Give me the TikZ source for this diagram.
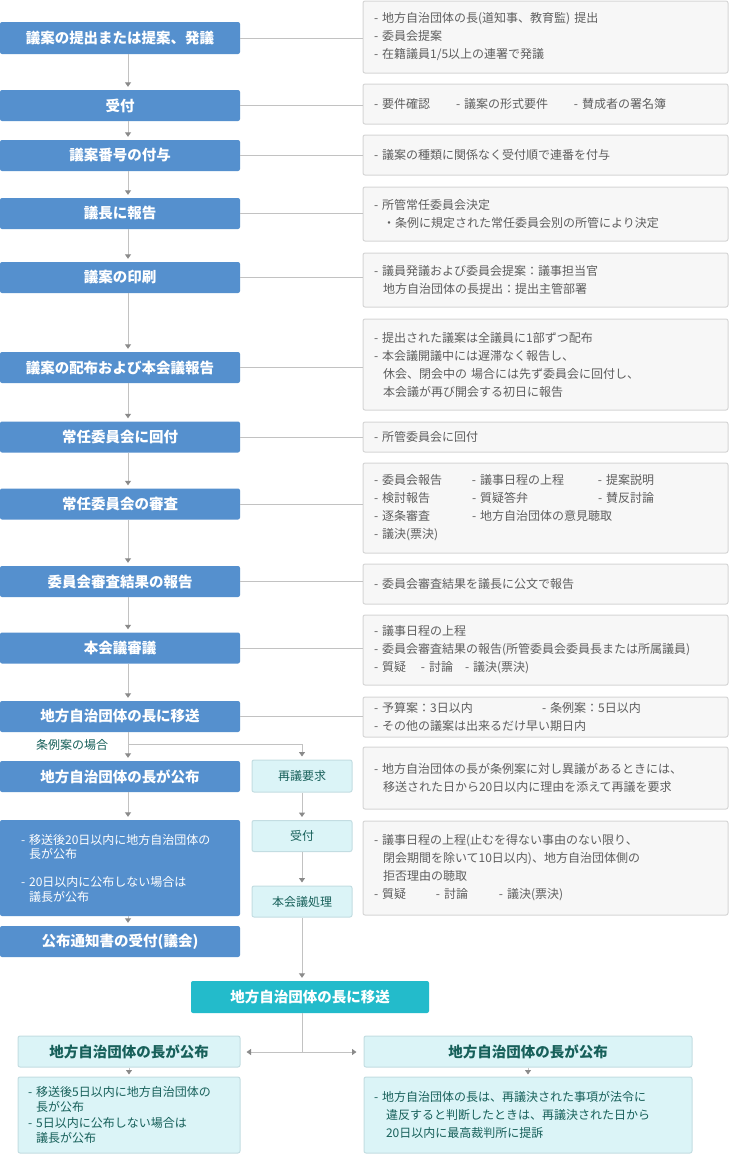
\documentclass[tikz,border=0pt]{standalone}
\usepackage{fontspec}
\setmainfont{Noto Sans CJK JP}
\usetikzlibrary{arrows.meta}
\definecolor{mblue}{HTML}{5590CE}
\definecolor{mteal}{HTML}{23BBCB}
\definecolor{lcyan}{HTML}{DBF4F7}
\definecolor{lcyanborder}{HTML}{C3DDE2}
\definecolor{dteal}{HTML}{17605A}
\definecolor{infofill}{HTML}{F7F7F7}
\definecolor{infoborder}{HTML}{D6D6D6}
\definecolor{infotext}{HTML}{5E5E5E}
\definecolor{connc}{HTML}{C2C2C2}
\definecolor{arrowgray}{HTML}{8A8A8A}
\tikzset{
  bluebox/.style={fill=mblue, rounded corners=2pt, text=white,
    font=\bfseries\fontsize{14.5}{17}\selectfont,
    minimum width=240pt, minimum height=31pt, inner sep=0pt},
  bluelist/.style={fill=mblue, rounded corners=2pt, text=white,
    font=\fontsize{12}{14.5}\selectfont, align=left,
    text width=198pt, inner xsep=21pt, inner ysep=0pt},
  infobox/.style={draw=infoborder, fill=infofill, rounded corners=2pt,
    line width=1pt, text=infotext, font=\fontsize{12}{18}\selectfont,
    text width=343pt, inner xsep=11pt, inner ysep=0pt, align=left},
  smallbox/.style={draw=lcyanborder, fill=lcyan, rounded corners=2pt,
    line width=1pt, text=dteal, font=\fontsize{12}{14}\selectfont,
    minimum width=100pt, minimum height=31pt, inner sep=0pt},
  tealbox/.style={fill=mteal, rounded corners=2pt, text=white,
    font=\bfseries\fontsize{14.5}{17}\selectfont,
    minimum width=238pt, minimum height=32pt, inner sep=0pt},
  cyantitle/.style={draw=lcyanborder, fill=lcyan, rounded corners=2pt,
    line width=1pt, text=dteal, font=\bfseries\fontsize{14.5}{17}\selectfont,
    minimum height=31pt, inner sep=0pt},
  cyanlist/.style={draw=lcyanborder, fill=lcyan, rounded corners=2pt,
    line width=1pt, text=dteal, align=left, inner xsep=10pt, inner ysep=0pt},
  conn/.style={draw=connc, line width=1pt},
  arr/.style={-{Triangle[width=6pt,length=4.5pt,color=arrowgray]}, shorten >=3pt},
}
\begin{document}
\begin{tikzpicture}[x=1pt,y=-1pt]
\useasboundingbox[fill=white] (0,0) rectangle (729,1154);

% main blue boxes
\node[bluebox, minimum height=32pt] (b1) at (120,38) {議案の提出または提案、発議};
\node[bluebox] (b2) at (120,105.5) {受付};
\node[bluebox] (b3) at (120,155.5) {議案番号の付与};
\node[bluebox] (b4) at (120,213.5) {議長に報告};
\node[bluebox] (b5) at (120,277.5) {議案の印刷};
\node[bluebox] (b6) at (120,367.5) {議案の配布および本会議報告};
\node[bluebox] (b7) at (120,437) {常任委員会に回付};
\node[bluebox] (b8) at (120,504) {常任委員会の審査};
\node[bluebox] (b9) at (120,581.5) {委員会審査結果の報告};
\node[bluebox] (b10) at (120,648) {本会議審議};
\node[bluebox] (b11) at (120,716.5) {地方自治団体の長に移送};
\node[bluebox] (b12) at (120,776.5) {地方自治団体の長が公布};
\node[bluelist, minimum height=96pt] (b13) at (120,868) {- 移送後20日以内に地方自治団体の\\\hspace*{8pt}長が公布\\[13.5pt]- 20日以内に公布しない場合は\\\hspace*{8pt}議長が公布};
\node[bluebox] (b14) at (120,941.5) {公布通知書の受付(議会)};

% info boxes
\node[infobox, minimum height=72pt] (i1) at (545.5,37) {- 地方自治団体の長(道知事、教育監) 提出\\- 委員会提案\\- 在籍議員1/5以上の連署で発議};
\node[infobox, minimum height=40pt] (i2) at (545.5,104) {\makebox[82pt][l]{- 要件確認}\makebox[118pt][l]{- 議案の形式要件}- 賛成者の署名簿};
\node[infobox, minimum height=40pt] (i3) at (545.5,155) {- 議案の種類に関係なく受付順で連番を付与};
\node[infobox, minimum height=54pt] (i4) at (545.5,214) {- 所管常任委員会決定\\\hspace*{9pt}・条例に規定された常任委員会別の所管により決定};
\node[infobox, minimum height=54pt] (i5) at (545.5,280) {- 議員発議および委員会提案：議事担当官\\\hspace*{9pt}地方自治団体の長提出：提出主管部署};
\node[infobox, minimum height=91pt] (i6) at (545.5,364.5) {- 提出された議案は全議員に1部ずつ配布\\- 本会議開議中には遅滞なく報告し、\\\hspace*{9pt}休会、閉会中の 場合には先ず委員会に回付し、\\\hspace*{9pt}本会議が再び開会する初日に報告};
\node[infobox, minimum height=30pt] (i7) at (545.5,437) {- 所管委員会に回付};
\node[infobox, minimum height=90pt] (i8) at (545.5,508) {\makebox[98pt][l]{- 委員会報告}\makebox[126pt][l]{- 議事日程の上程}- 提案説明\\\makebox[98pt][l]{- 検討報告}\makebox[126pt][l]{- 質疑答弁}- 賛反討論\\\makebox[98pt][l]{- 逐条審査}- 地方自治団体の意見聴取\\- 議決(票決)};
\node[infobox, minimum height=40pt] (i9) at (545.5,584) {- 委員会審査結果を議長に公文で報告};
\node[infobox, minimum height=70pt] (i10) at (545.5,650) {- 議事日程の上程\\- 委員会審査結果の報告(所管委員会委員長または所属議員)\\\makebox[47pt][l]{- 質疑}\makebox[44pt][l]{- 討論}- 議決(票決)};
\node[infobox, minimum height=40pt] (i11) at (545.5,717) {\makebox[168pt][l]{- 予算案：3日以内}- 条例案：5日以内\\- その他の議案は出来るだけ早い期日内};
\node[infobox, minimum height=62pt] (i12) at (545.5,778) {- 地方自治団体の長が条例案に対し異議があるときには、\\\hspace*{9pt}移送された日から20日以内に理由を添えて再議を要求};
\node[infobox, minimum height=94pt] (i13) at (545.5,868) {- 議事日程の上程(止むを得ない事由のない限り、\\\hspace*{9pt}閉会期間を除いて10日以内)、地方自治団体側の\\\hspace*{9pt}拒否理由の聴取\\\makebox[62pt][l]{- 質疑}\makebox[63pt][l]{- 討論}- 議決(票決)};

% small re-deliberation column
\node[smallbox, minimum height=32pt] (s1) at (302,776) {再議要求};
\node[smallbox] (s2) at (302,836) {受付};
\node[smallbox] (s3) at (302,901.5) {本会議処理};

% label
\node[text=dteal, font=\fontsize{12}{14}\selectfont, inner sep=0pt] (lab) at (72,745) {条例案の場合};

% lower part
\node[tealbox] (t1) at (310,997) {地方自治団体の長に移送};
\node[cyantitle, minimum width=222pt] (l1) at (129,1051.5) {地方自治団体の長が公布};
\node[cyantitle, minimum width=328pt] (r1) at (528,1051.5) {地方自治団体の長が公布};
\node[cyanlist, text width=202pt, minimum height=76pt, font=\fontsize{12}{15.3}\selectfont] (l2) at (129,1115) {- 移送後5日以内に地方自治団体の\\\hspace*{8pt}長が公布\\- 5日以内に公布しない場合は\\\hspace*{8pt}議長が公布};
\node[cyanlist, text width=308pt, minimum height=76pt, font=\fontsize{12}{18}\selectfont] (r2) at (528,1115) {- 地方自治団体の長は、再議決された事項が法令に\\\hspace*{12pt}違反すると判断したときは、再議決された日から\\\hspace*{12pt}20日以内に最高裁判所に提訴};

% connectors: main flow
\foreach \a/\b in {b1/b2,b2/b3,b3/b4,b4/b5,b5/b6,b6/b7,b7/b8,b8/b9,b9/b10,b10/b11,b11/b12,b12/b13,b13/b14}
  \draw[conn,arr] ([xshift=8pt]\a.south) -- ([xshift=8pt]\b.north);
% connectors to info boxes
\foreach \a/\b in {b1/i1,b2/i2,b3/i3,b4/i4,b5/i5,b6/i6,b7/i7,b8/i8,b9/i9,b10/i10,b11/i11}
  \draw[conn] (\a.east) -- (\a.east -| \b.west);
% branch
\coordinate (br) at (128,744);
\draw[conn,arr] (br) -| (s1.north);
\draw[conn,arr] (s1.south) -- (s2.north);
\draw[conn,arr] (s2.south) -- (s3.north);
\draw[conn,arr] (s3.south) -- (s3.south |- t1.north);
\coordinate (jn) at (302,1052);
\draw[conn] (s3.south |- t1.south) -- (jn);
\draw[conn,arr,shorten >=6pt] (jn) -- (jn -| l1.east);
\draw[conn,arr,shorten >=7pt] (jn) -- (jn -| r1.west);
\draw[conn,arr,shorten >=2pt] (l1.south) -- (l2.north);
\draw[conn,arr,shorten >=2pt] (r1.south) -- (r2.north);
\end{tikzpicture}
\end{document}
